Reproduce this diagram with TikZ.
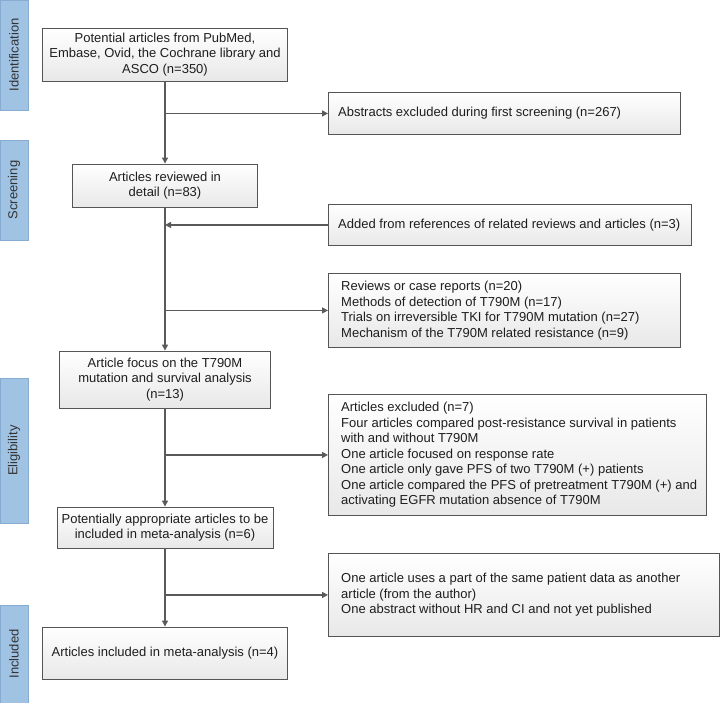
\documentclass[tikz,border=0pt]{standalone}
\usepackage{fontspec}
\setmainfont{Liberation Sans}
\usetikzlibrary{arrows.meta}
\definecolor{sidefill}{RGB}{160,195,228}
\definecolor{sidedraw}{RGB}{135,172,210}
\definecolor{boxdraw}{RGB}{85,85,85}
\definecolor{linecol}{RGB}{90,90,90}
\definecolor{txt}{RGB}{30,30,30}
\tikzset{
  base/.style={draw=boxdraw, line width=0.9pt, top color=white, bottom color=black!9,
    font=\fontsize{13}{15.5}\selectfont, text=txt, inner sep=0pt},
  cbox/.style={base, align=center},
  rbox/.style={base, anchor=north west},
  rtext/.style={font=\fontsize{13}{15.5}\selectfont, text=txt, align=left, inner sep=0pt, anchor=west},
  side/.style={draw=sidedraw, fill=sidefill, line width=0.8pt, rotate=90,
    minimum height=28pt, inner sep=0pt, font=\fontsize{13}{15.5}\selectfont, text=black!80},
  conn/.style={draw=linecol, line width=1.3pt, -{Triangle[length=6pt,width=6pt]}}
}
\begin{document}
\begin{tikzpicture}[x=1pt,y=-1pt]
\useasboundingbox (0,0) rectangle (720,702);
% sidebars
\node[side, minimum width=110pt] (s1) at (14,55) {Identification};
\node[side, minimum width=100pt] (s2) at (14,190) {Screening};
\node[side, minimum width=145pt] (s3) at (14,450.5) {Eligibility};
\node[side, minimum width=98pt] (s4) at (14,654) {Included};
% main column
\node[cbox, minimum width=245pt, minimum height=53pt] (b1) at (165,54.5)
  {Potential articles from PubMed,\\Embase, Ovid, the Cochrane library and\\ASCO (n=350)};
\node[cbox, minimum width=185pt, minimum height=43pt] (b3) at (165,185.5)
  {Articles reviewed in\\detail (n=83)};
\node[cbox, minimum width=211pt, minimum height=57pt] (b6) at (165,379.5)
  {Article focus on the T790M\\mutation and survival analysis\\(n=13)};
\node[cbox, minimum width=216pt, minimum height=41pt] (b8) at (165,527.5)
  {Potentially appropriate articles to be\\included in meta-analysis (n=6)};
\node[cbox, minimum width=245pt, minimum height=52pt] (b10) at (165,653)
  {Articles included in meta-analysis (n=4)};
% right column
\node[rbox, minimum width=352pt, minimum height=42pt] (b2) at (328,92) {};
\node[rtext] (t2) at ([xshift=10pt]b2.west) {Abstracts excluded during first screening (n=267)};
\node[rbox, minimum width=363pt, minimum height=41pt] (b4) at (328,204) {};
\node[rtext] (t4) at ([xshift=10pt]b4.west) {Added from references of related reviews and articles (n=3)};
\node[rbox, minimum width=352pt, minimum height=74pt] (b5) at (328,273) {};
\node[rtext] (t5) at ([xshift=13pt]b5.west)
  {Reviews or case reports (n=20)\\Methods of detection of T790M (n=17)\\Trials on irreversible TKI for T790M mutation (n=27)\\Mechanism of the T790M related resistance (n=9)};
\node[rbox, minimum width=378pt, minimum height=121pt] (b7) at (328,394) {};
\node[rtext] (t7) at ([xshift=13pt]b7.west)
  {Articles excluded (n=7)\\Four articles compared post-resistance survival in patients\\with and without T790M\\One article focused on response rate\\One article only gave PFS of two T790M (+) patients\\One article compared the PFS of pretreatment T790M (+) and\\activating EGFR mutation absence of T790M};
\node[rbox, minimum width=391pt, minimum height=83pt] (b9) at (328,553) {};
\node[rtext] (t9) at ([xshift=13pt]b9.west)
  {One article uses a part of the same patient data as another\\article (from the author)\\One abstract without HR and CI and not yet published};
% connectors
\draw[conn] (b1.south) -- (b3.north);
\draw[conn] (b2.west -| b1.south) -- (b2.west);
\draw[conn] (b3.south) -- (b6.north);
\draw[conn] (b4.west) -- (b4.west -| b3.south);
\draw[conn] (b5.west -| b3.south) -- (b5.west);
\draw[conn] (b6.south) -- (b8.north);
\draw[conn] (b7.west -| b6.south) -- (b7.west);
\draw[conn] (b8.south) -- (b10.north);
\draw[conn] (b9.west -| b8.south) -- (b9.west);
\end{tikzpicture}
\end{document}
